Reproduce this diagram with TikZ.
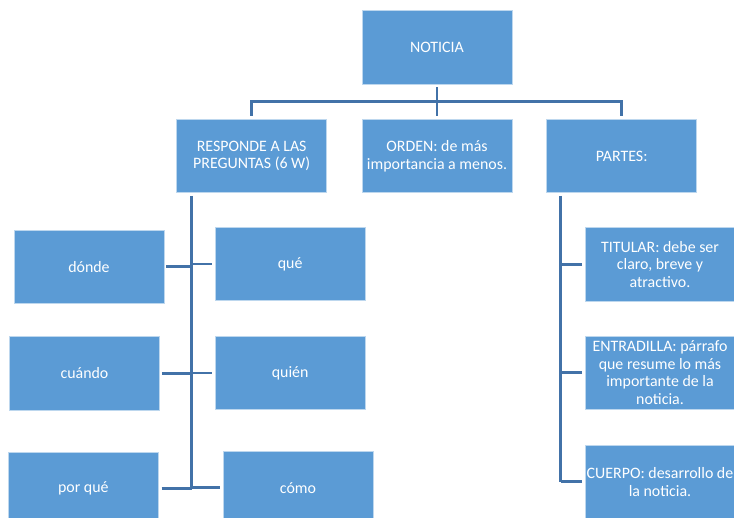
\documentclass[tikz,border=0pt]{standalone}
\usepackage{fontspec}
\setmainfont{Carlito}
\definecolor{boxblue}{HTML}{5B9BD5}
\definecolor{lineblue}{HTML}{4272A8}
\definecolor{boxedge}{HTML}{BDD7EE}
\begin{document}
\begin{tikzpicture}[x=1pt,y=-1pt,
  box/.style={rectangle, fill=boxblue, draw=boxedge, line width=0.7pt,
    minimum width=150pt, minimum height=73.5pt, inner sep=0pt, align=center,
    text=white, font=\fontsize{15.9}{17.7}\selectfont},
  conn/.style={draw=lineblue, line width=2.8pt}]
\useasboundingbox (0,0) rectangle (734,518);
\clip (0,0) rectangle (734,518);
\fill[white] (0,0) rectangle (734,518);
% top level
\node[box] (noticia) at (437,47.3) {NOTICIA};
\node[box] (responde) at (251.7,156) {RESPONDE A LAS\\PREGUNTAS (6 W)};
\node[box] (orden) at (437,156) {ORDEN: de más\\importancia a menos.};
\node[box] (partes) at (621.7,156) {PARTES:};
% left group
\node[box] (donde) at (89,266.7) {dónde};
\node[box] (que) at (290.2,264) {qué};
\node[box] (cuando) at (84.5,373.5) {cuándo};
\node[box] (quien) at (290.2,373) {quién};
\node[box] (porque) at (83.3,488.7) {por qué};
\node[box] (como) at (298,487.7) {cómo};
% right group
\node[box] (titular) at (660,264.4) {TITULAR: debe ser\\claro, breve y\\atractivo.};
\node[box] (entradilla) at (660,372.7) {ENTRADILLA: párrafo\\que resume lo más\\importante de la\\noticia.};
\node[box] (cuerpo) at (660,481.7) {CUERPO: desarrollo de\\la noticia.};
% top connectors
\coordinate (bus) at (437,101.7);
\draw[conn, shorten <=3pt, shorten >=3pt] (noticia.south) -- (orden.north);
\draw[conn, shorten <=3pt, shorten >=3pt] (responde.north) |- (bus) -| (partes.north);
% left trunk
\coordinate (ltop) at (191.7,196);
\draw[conn] (ltop) -- (porque.east -| ltop);
\draw[conn, shorten <=2pt] (donde.east) -- (donde.east -| ltop);
\draw[conn, shorten <=3pt] (que.west) -- (que.west -| ltop);
\draw[conn, shorten <=2pt] (cuando.east) -- (cuando.east -| ltop);
\draw[conn, shorten <=3pt] (quien.west) -- (quien.west -| ltop);
\draw[conn, shorten <=3pt] (porque.east) -- (porque.east -| ltop);
\draw[conn, shorten <=3pt] (como.west) -- (como.west -| ltop);
% right trunk
\coordinate (rtop) at (560.5,196);
\draw[conn] (rtop) -- (cuerpo.west -| rtop);
\draw[conn, shorten <=2.5pt] (titular.west) -- (titular.west -| rtop);
\draw[conn, shorten <=2.5pt] (entradilla.west) -- (entradilla.west -| rtop);
\draw[conn, shorten <=2.5pt] (cuerpo.west) -- (cuerpo.west -| rtop);
\end{tikzpicture}
\end{document}
